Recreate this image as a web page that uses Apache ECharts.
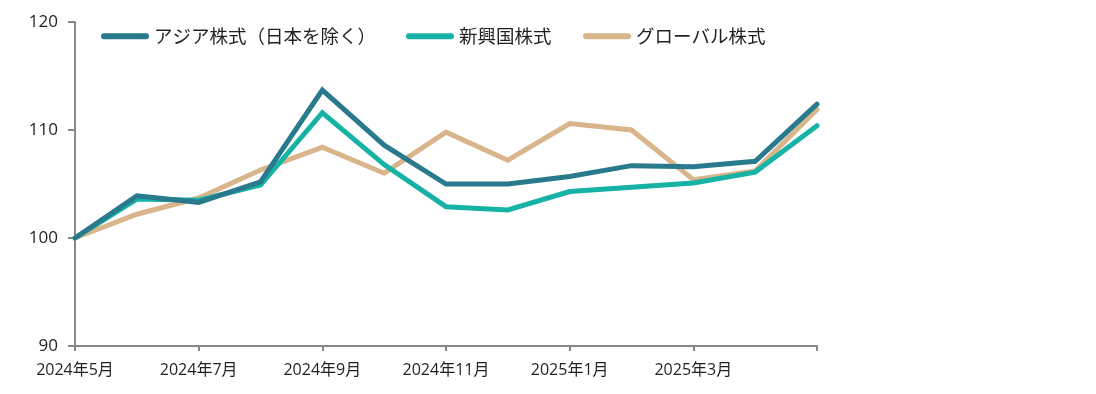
<!DOCTYPE html>
<html>
<head>
<meta charset="utf-8">
<script src="https://cdn.jsdelivr.net/npm/echarts@6/dist/echarts.min.js"></script>
<style>
html,body{margin:0;padding:0;background:#fff;}
#c{width:1096px;height:394px;}
</style>
</head>
<body>
<div id="c"></div>
<script>
const categories = ['2024年5月','2024年6月','2024年7月','2024年8月','2024年9月','2024年10月','2024年11月','2024年12月','2025年1月','2025年2月','2025年3月','2025年4月','2025年5月'];
const seriesNames = ['アジア株式（日本を除く）','新興国株式','グローバル株式'];
const asiaExJapan = [100, 103.9, 103.3, 105.2, 113.7, 108.6, 105.0, 105.0, 105.7, 106.7, 106.6, 107.1, 112.4];
const emerging    = [100, 103.6, 103.5, 104.9, 111.6, 106.8, 102.9, 102.6, 104.3, 104.7, 105.1, 106.1, 110.4];
const globalEq    = [100, 102.2, 103.7, 106.3, 108.4, 106.0, 109.8, 107.2, 110.6, 110.0, 105.4, 106.2, 111.9];
const yTicks = [90, 100, 110, 120];

const colors = ['#287a8c', '#17b2a6', '#d8b58b'];
const seriesData = [asiaExJapan, emerging, globalEq];
const legendLefts = [101, 406, 583];
const pill = 'path://M3,0 H45 A3,3 0 0 1 45,6 H3 A3,3 0 0 1 3,0 Z';
const textColor = '#231f20';
const axisColor = '#888888';
const labelFont = '"Open Sans", "Noto Sans CJK JP", sans-serif';

const chart = echarts.init(document.getElementById('c'), null, {renderer: 'canvas'});
chart.setOption({
  animation: false,
  backgroundColor: '#ffffff',
  color: colors,
  grid: {left: 75, right: 279, top: 22, bottom: 48, containLabel: false},
  legend: seriesNames.map((n, i) => ({
    data: [n],
    left: legendLefts[i],
    top: 27,
    padding: 0,
    icon: pill,
    itemWidth: 48,
    itemHeight: 6,
    itemGap: 0,
    textStyle: {fontFamily: 'Noto Sans CJK JP', fontSize: 18.5, color: textColor}
  })),
  xAxis: {
    type: 'category',
    data: categories,
    boundaryGap: false,
    axisLine: {lineStyle: {color: axisColor, width: 2}},
    axisTick: {show: true, interval: 1, length: 5, lineStyle: {color: axisColor, width: 2}},
    axisLabel: {
      interval: function (idx) { return idx % 2 === 0 && idx < categories.length - 1; },
      fontFamily: labelFont, fontSize: 16, color: textColor, margin: 16
    },
    splitLine: {show: false}
  },
  yAxis: {
    type: 'value',
    min: yTicks[0],
    max: yTicks[yTicks.length - 1],
    interval: 10,
    axisLine: {show: true, lineStyle: {color: axisColor, width: 2}},
    axisTick: {show: true, length: 7, lineStyle: {color: axisColor, width: 2}},
    axisLabel: {fontFamily: labelFont, fontSize: 17, color: textColor, margin: 17},
    splitLine: {show: false}
  },
  series: seriesNames.map((n, i) => ({
    name: n,
    type: 'line',
    data: seriesData[i],
    symbol: 'none',
    lineStyle: {width: 5, color: colors[i], cap: 'round', join: 'miter'},
    itemStyle: {color: colors[i]},
    z: 3 - i
  }))
});
</script>
</body>
</html>
